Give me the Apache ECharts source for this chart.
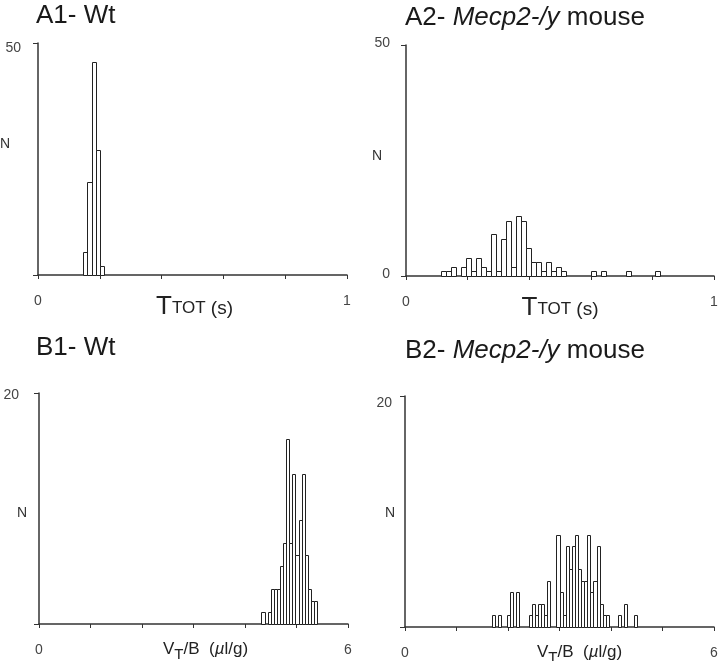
<!DOCTYPE html>
<html><head><meta charset="utf-8">
<script src="https://cdn.jsdelivr.net/npm/echarts@6/dist/echarts.min.js"></script>
<style>html,body{margin:0;padding:0;background:#fff}#c{width:720px;height:661px}</style>
</head><body><div id="c"></div>
<script>
// ---------- data ----------
// A1 - Wt : TTOT histogram (s)
const a1BinStart = 0.14667;
const a1BinWidth = 0.013333;
const a1Counts = [5, 20, 46, 27, 2];

// A2 - Mecp2-/y : TTOT histogram (s)
const a2BinStart = 0.1134;
const a2BinWidth = 0.0162;
const a2Counts = [1,1,2,0,2,4,1,4,2,1,9,1,8,12,2,13,12,6,3,3,1,3,1,2,1,
                  0,0,0,0,0,1,0,1,0,0,0,0,1,0,0,0,0,0,1];

// B1 - Wt : VT/B histogram (µl/g)
const b1BinStart = 4.32;
const b1BinWidth = 0.06;
const b1Counts = [1,0,1,3,3,3,5,7,16,7,13,6,9,13,6,3,2,2];

// B2 - Mecp2-/y : VT/B histogram (µl/g)
const b2BinStart = 1.68;
const b2BinWidth = 0.06;
const b2Counts = [1,0,1,0,0,1,3,0,3,0, 0,0,1,2,1,2,2,1,4,0,
                  0,8,3,1,7,5,7,8,5,4, 4,8,3,4,7,2,1,1,0,0,
                  0,1,0,2,0,0,1];

const titles = ['A1- Wt', 'A2- ', 'B1- Wt', 'B2- '];
const italicPart = 'Mecp2-/y';
const yMaxA = 50, yMaxB = 20;
const xMaxA = 1, xMaxB = 6;

// ---------- build ----------
function bins(start, w, counts) {
  const out = [];
  counts.forEach((c, i) => { if (c > 0) out.push([start + i * w, start + (i + 1) * w, c]); });
  return out;
}
const FONT = '"Liberation Sans", Arial, Helvetica, sans-serif';
const AX = '#333';

const grids = [
  {left: 38, top: 43, width: 309, height: 232},
  {left: 406, top: 45, width: 308, height: 231},
  {left: 39, top: 393, width: 309, height: 231},
  {left: 405, top: 396, width: 309, height: 231}
].map(g => Object.assign(g, {containLabel: false, outerBoundsMode: 'none'}));

const nameA = '{a|T}{b|TOT}{c| (s)}';
const richA = {
  a: {fontSize: 26, lineHeight: 28, verticalAlign: 'bottom', color: '#222', fontFamily: FONT},
  b: {fontSize: 17, lineHeight: 28, verticalAlign: 'bottom', padding: [0, 0, 3, 0], color: '#222', fontFamily: FONT},
  c: {fontSize: 19, lineHeight: 28, verticalAlign: 'bottom', padding: [0, 0, 2, 0], color: '#222', fontFamily: FONT}
};
const nameB = '{v|V}{s|T}{v|/B  (}{m|µ}{v|l/g)}';
const richB = {
  v: {fontSize: 17, lineHeight: 26, verticalAlign: 'top', color: '#222', fontFamily: FONT},
  s: {fontSize: 15, lineHeight: 26, verticalAlign: 'top', padding: [6, 0, 0, 0], color: '#222', fontFamily: FONT},
  m: {fontSize: 17, lineHeight: 26, verticalAlign: 'top', fontStyle: 'italic', color: '#222', fontFamily: FONT}
};

function xAx(gi, max, interval, name, rich, gap, pad) {
  return {
    gridIndex: gi, type: 'value', min: 0, max: max, interval: interval,
    axisLine: {show: true, onZero: false, lineStyle: {color: AX, width: 1.5}},
    axisTick: {show: true, length: 4, lineStyle: {color: AX, width: 1}},
    splitLine: {show: false},
    axisLabel: {show: true, margin: 19, fontSize: 14, color: '#444', fontFamily: FONT,
      showMinLabel: true, showMaxLabel: true,
      formatter: v => (v === 0 || Math.abs(v - max) < 1e-9) ? String(v === 0 ? 0 : max) : ''},
    name: name, nameLocation: 'middle', nameGap: gap, nameMoveOverlap: false,
    nameTextStyle: {rich: rich, padding: pad}
  };
}
function yAx(gi, max, shown, margin, pad) {
  return {
    gridIndex: gi, type: 'value', min: 0, max: max, interval: max,
    axisLine: {show: true, onZero: false, lineStyle: {color: AX, width: 1.5}},
    axisTick: {show: true, length: 5, lineStyle: {color: AX, width: 1}},
    splitLine: {show: false},
    axisLabel: {show: true, margin: margin, fontSize: 14, color: '#444', fontFamily: FONT,
      showMinLabel: true, showMaxLabel: true,
      rich: {p: {fontSize: 14, color: '#444', fontFamily: FONT, padding: pad}},
      formatter: v => shown.indexOf(v) >= 0 ? '{p|' + v + '}' : ''}
  };
}
function hist(gi, data) {
  return {
    type: 'custom', xAxisIndex: gi, yAxisIndex: gi, data: data,
    encode: {x: [0, 1], y: 2}, silent: true, clip: false, z: 3,
    renderItem: function (params, api) {
      const p0 = api.coord([api.value(0), 0]);
      const p1 = api.coord([api.value(1), api.value(2)]);
      const x0 = Math.round(p0[0]) + 0.5, x1 = Math.round(p1[0]) + 0.5;
      const yb = Math.round(p0[1]) + 0.5, yt = Math.round(p1[1]) + 0.5;
      return {type: 'rect', shape: {x: x0, y: yt, width: x1 - x0, height: yb - yt},
        style: {fill: '#fff', stroke: '#222', lineWidth: 1}};
    }
  };
}

const titleStyle = {
  fontSize: 26, fontWeight: 'normal', color: '#1a1a1a', fontFamily: FONT,
  rich: {
    n: {fontSize: 26, color: '#1a1a1a', fontFamily: FONT},
    i: {fontSize: 26, fontStyle: 'italic', color: '#1a1a1a', fontFamily: FONT}
  }
};

function nLabel(x, y) {
  return {type: 'text', left: x, top: y,
    style: {text: 'N', fontSize: 14, fill: '#333', fontFamily: FONT}};
}

const option = {
  backgroundColor: '#fff',
  animation: false,
  title: [
    {text: titles[0], left: 36, top: 3, padding: 0, textStyle: titleStyle},
    {text: '{n|' + titles[1] + '}{i|' + italicPart + '}{n| mouse}', left: 405, top: 5, padding: 0, textStyle: titleStyle},
    {text: titles[2], left: 36, top: 335, padding: 0, textStyle: titleStyle},
    {text: '{n|' + titles[3] + '}{i|' + italicPart + '}{n| mouse}', left: 405, top: 338, padding: 0, textStyle: titleStyle}
  ],
  grid: grids,
  xAxis: [
    xAx(0, xMaxA, 0.2, nameA, richA, 17, [0, 0, 0, 4]),
    xAx(1, xMaxA, 0.2, nameA, richA, 17, 0),
    xAx(2, xMaxB, 1, nameB, richB, 17, [0, 0, 0, 24]),
    xAx(3, xMaxB, 1, nameB, richB, 17, [0, 0, 0, 40])
  ],
  yAxis: [
    yAx(0, yMaxA, [yMaxA], 17, [10, 0, 0, 0]),
    yAx(1, yMaxA, [0, yMaxA], 16, [0, 0, 3, 0]),
    yAx(2, yMaxB, [yMaxB], 20, [4, 0, 0, 0]),
    yAx(3, yMaxB, [yMaxB], 13, [14, 0, 0, 0])
  ],
  graphic: [nLabel(0, 137), nLabel(372, 149), nLabel(17, 506), nLabel(385, 506)],
  series: [
    hist(0, bins(a1BinStart, a1BinWidth, a1Counts)),
    hist(1, bins(a2BinStart, a2BinWidth, a2Counts)),
    hist(2, bins(b1BinStart, b1BinWidth, b1Counts)),
    hist(3, bins(b2BinStart, b2BinWidth, b2Counts))
  ]
};
const chart = echarts.init(document.getElementById('c'), null, {renderer: 'canvas'});
chart.setOption(option);
</script></body></html>
